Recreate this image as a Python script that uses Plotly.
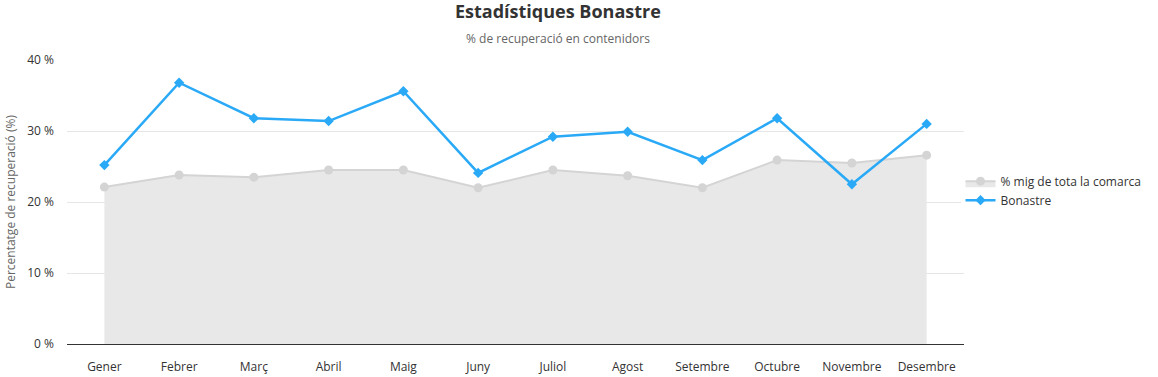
import plotly.graph_objects as go

months = ["Gener", "Febrer", "Març", "Abril", "Maig", "Juny", "Juliol",
          "Agost", "Setembre", "Octubre", "Novembre", "Desembre"]
comarca = [22.1, 23.8, 23.5, 24.5, 24.5, 22.0, 24.5, 23.7, 22.0, 25.9, 25.5, 26.6]
bonastre = [25.2, 36.8, 31.8, 31.4, 35.6, 24.1, 29.2, 29.9, 25.9, 31.8, 22.5, 31.0]

font = "Open Sans, Noto Sans, sans-serif"

fig = go.Figure()
fig.add_trace(go.Scatter(
    x=months, y=comarca, name="% mig de tota la comarca",
    mode="lines+markers", fill="tozeroy", fillcolor="#e8e8e8",
    line=dict(color="#d4d4d4", width=2),
    marker=dict(symbol="circle", size=9, color="#d4d4d4"),
))
fig.add_trace(go.Scatter(
    x=months, y=bonastre, name="Bonastre",
    mode="lines+markers",
    line=dict(color="#2aa9f7", width=2.5),
    marker=dict(symbol="diamond", size=8, color="#2aa9f7"),
))

fig.update_layout(
    width=1158, height=377,
    margin=dict(l=67, r=193, t=60, b=33),
    paper_bgcolor="white", plot_bgcolor="white",
    font=dict(family=font, size=12, color="#333"),
    showlegend=True,
    legend=dict(x=0.995, y=0.54, xanchor="left", yanchor="middle",
                font=dict(size=12, color="#333"), tracegroupgap=0,
                itemwidth=30),
    xaxis=dict(type="category", range=[-0.5, 11.5], showgrid=False,
               showline=True, linecolor="#333", linewidth=1,
               ticks="", ticklabelstandoff=12, automargin=False,
               tickfont=dict(size=12, color="#333"), fixedrange=True),
    yaxis=dict(range=[0, 40], dtick=10, ticksuffix=" %", showgrid=True,
               gridcolor="#e6e6e6", zeroline=False, showline=False,
               ticklabelstandoff=12, automargin=False,
               tickfont=dict(size=12, color="#333")),
    annotations=[
        dict(text="<b>Estadístiques Bonastre</b>", xref="paper", yref="paper",
             x=0.547, y=1 + 49 / 284, xanchor="center", yanchor="middle",
             showarrow=False, font=dict(size=18, color="#333")),
        dict(text="% de recuperació en contenidors", xref="paper", yref="paper",
             x=0.547, y=1 + 22 / 284, xanchor="center", yanchor="middle",
             showarrow=False, font=dict(size=12, color="#666")),
        dict(text="Percentatge de recuperació (%)", xref="paper", yref="paper",
             x=(10 - 67) / 898, y=0.5, xanchor="center", yanchor="middle",
             textangle=-90, showarrow=False, font=dict(size=12, color="#666")),
    ],
)

fig.write_html("out.html", config={"displayModeBar": False},
               post_script="document.body.style.margin='0';")
